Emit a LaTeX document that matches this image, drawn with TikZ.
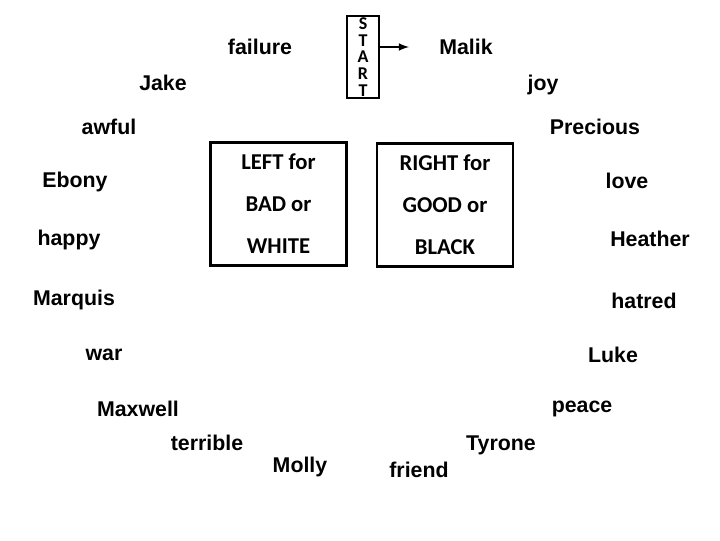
\documentclass[tikz,border=0pt]{standalone}
\usepackage{fontspec}
\setmainfont{Liberation Sans}
\newfontfamily\boxfont{Carlito}
\usepackage{tikz}
\usetikzlibrary{arrows,positioning}

\begin{document}
\begin{tikzpicture}[
  x=0.75pt, y=-0.75pt,
  word/.style={inner sep=0pt, font=\bfseries\fontsize{16}{19}\selectfont},
  side/.style={rectangle, draw, line width=2.2pt, inner sep=0pt,
               minimum width=102pt, minimum height=92pt, align=center,
               font=\boxfont\bfseries\fontsize{17}{31.5}\selectfont},
  startbox/.style={rectangle, draw, line width=0.8pt, inner sep=0pt,
                   minimum width=24pt, minimum height=61.5pt, align=center,
                   font=\boxfont\bfseries\fontsize{13.5}{12.6}\selectfont},
  arrow/.style={-latex, line width=1.6pt}
]
\useasboundingbox (0,0) rectangle (720,540);

% category boxes
\node[side] (left) at (278.5,204) {LEFT for\\BAD or\\WHITE};
\node[side] (right) at (445,205) {RIGHT for\\GOOD or\\BLACK};

% start
\node[startbox] (start) at (363,57) {S\\T\\A\\R\\T};
\coordinate (arrowend) at (409,47);
\draw[arrow] (start.east |- arrowend) -- (arrowend);

% stimuli
\node[word] (failure) at (260,47) {failure};
\node[word] (malik) at (466,47) {Malik};
\node[word] (jake) at (163,83) {Jake};
\node[word] (joy) at (543,85) {joy};
\node[word] (awful) at (109,127) {awful};
\node[word] (precious) at (595,127) {Precious};
\node[word] (ebony) at (75,182) {Ebony};
\node[word] (love) at (627,181) {love};
\node[word] (happy) at (69,240) {happy};
\node[word] (heather) at (650,239) {Heather};
\node[word] (marquis) at (74,300) {Marquis};
\node[word] (hatred) at (644,301) {hatred};
\node[word] (war) at (104,355) {war};
\node[word] (luke) at (613,355) {Luke};
\node[word] (maxwell) at (138,409) {Maxwell};
\node[word] (peace) at (582,409) {peace};
\node[word] (terrible) at (207,443) {terrible};
\node[word] (molly) at (300,467) {Molly};
\node[word] (friend) at (419,470) {friend};
\node[word] (tyrone) at (501,445) {Tyrone};
\end{tikzpicture}
\end{document}
